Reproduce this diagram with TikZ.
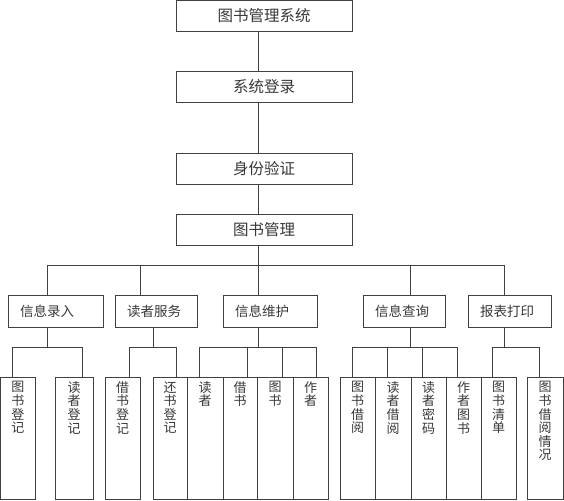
\documentclass[tikz,border=0pt]{standalone}
\usepackage{fontspec}
\newfontfamily\cjk{Noto Sans CJK SC}
\definecolor{linec}{gray}{0.25}
\definecolor{textc}{gray}{0.22}
\newcommand\leafnode[4]{\node[leafbox, minimum width=#3pt, label={[leaflabel]north:{#4}}] (#1) at (#2,377) {};}
\begin{document}
\begin{tikzpicture}[x=1pt,y=-1pt, draw=linec, line width=0.9pt,
  topbox/.style={draw=linec, line width=0.9pt, rectangle, minimum width=176pt, minimum height=31pt, inner sep=0pt, outer sep=0pt, text=textc, font=\cjk\fontsize{15.5}{17}\selectfont},
  midbox/.style={draw=linec, line width=0.9pt, rectangle, minimum height=32pt, inner xsep=12pt, inner ysep=0pt, outer sep=0pt, align=left, anchor=west, text=textc, font=\cjk\fontsize{13.5}{15}\selectfont},
  leafbox/.style={draw=linec, line width=0.9pt, rectangle, minimum height=122pt, inner sep=0pt, outer sep=0pt, anchor=north west},
  leaflabel/.style={anchor=north, yshift=-4pt, align=center, inner sep=0pt, text=textc, font=\cjk\fontsize{13}{13.6}\selectfont}
]
\useasboundingbox (0,0) rectangle (564,500);
% top chain
\node[topbox] (t1) at (264,16) {图书管理系统};
\node[topbox] (t2) at (264,87) {系统登录};
\node[topbox] (t3) at (264,168.5) {身份验证};
\node[topbox] (t4) at (264,229.5) {图书管理};
\coordinate (mx) at (258,0);
\draw (t1.south -| mx) -- (t2.north -| mx);
\draw (t2.south -| mx) -- (t3.north -| mx);
\draw (t3.south -| mx) -- (t4.north -| mx);
% level 2
\node[midbox, text width=71pt] (A) at (8,311) {信息录入};
\node[midbox, text width=58pt] (B) at (115,311) {读者服务};
\node[midbox, text width=70pt] (C) at (223,311) {信息维护};
\node[midbox, text width=58pt] (D) at (363,311) {信息查询};
\node[midbox, text width=59pt] (E) at (468,311) {报表打印};
\coordinate (bA) at (47,265);
\coordinate (bB) at (140,265);
\coordinate (bC) at (258,265);
\coordinate (bD) at (410,265);
\coordinate (bE) at (504,265);
\draw (t4.south -| mx) -- (bC);
\draw (bA) -- (bE);
\draw (bA) -- (A.north -| bA);
\draw (bB) -- (B.north -| bB);
\draw (bC) -- (C.north -| bC);
\draw (bD) -- (D.north -| bD);
\draw (bE) -- (E.north -| bE);
% leaves
\leafnode{a1}{0.5}{34.5}{图\\书\\登\\记}
\leafnode{a2}{55}{38}{读\\者\\登\\记}
\leafnode{b1}{105}{35}{借\\书\\登\\记}
\leafnode{b2}{153}{34}{还\\书\\登\\记}
\leafnode{c1}{187}{36}{读\\者}
\leafnode{c2}{223}{34}{借\\书}
\leafnode{c3}{257}{36}{图\\书}
\leafnode{c4}{293}{35}{作\\者}
\leafnode{d1}{340}{35}{图\\书\\借\\阅}
\leafnode{d2}{375}{36}{读\\者\\借\\阅}
\leafnode{d3}{411}{35}{读\\者\\密\\码}
\leafnode{d4}{446}{35}{作\\者\\图\\书}
\leafnode{e1}{481}{35}{图\\书\\清\\单}
\leafnode{e2}{527}{36}{图\\书\\借\\阅\\情\\况}
% sub-buses
\coordinate (dA) at (47,347);
\coordinate (dB) at (153,347);
\coordinate (dC) at (258,347);
\coordinate (dD) at (410,347);
\coordinate (dE) at (504,347);
\coordinate (sa1) at (12,347);  \coordinate (sa2) at (82,347);
\coordinate (sb1) at (129,347); \coordinate (sb2) at (176,347);
\coordinate (sc1) at (199,347); \coordinate (sc2) at (247,347);
\coordinate (sc3) at (282,347); \coordinate (sc4) at (316,347);
\coordinate (sd1) at (352,347); \coordinate (sd2) at (387,347);
\coordinate (sd3) at (422,347); \coordinate (sd4) at (457,347);
\coordinate (se1) at (492,347); \coordinate (se2) at (539,347);
\draw (A.south -| dA) -- (dA);
\draw (B.south -| dB) -- (dB);
\draw (C.south -| dC) -- (dC);
\draw (D.south -| dD) -- (dD);
\draw (E.south -| dE) -- (dE);
\draw (sa1) -- (sa2);
\draw (sb1) -- (sb2);
\draw (sc1) -- (sc4);
\draw (sd1) -- (sd4);
\draw (se1) -- (se2);
\draw (sa1) -- (a1.north -| sa1);
\draw (sa2) -- (a2.north -| sa2);
\draw (sb1) -- (b1.north -| sb1);
\draw (sb2) -- (b2.north -| sb2);
\draw (sc1) -- (c1.north -| sc1);
\draw (sc2) -- (c2.north -| sc2);
\draw (sc3) -- (c3.north -| sc3);
\draw (sc4) -- (c4.north -| sc4);
\draw (sd1) -- (d1.north -| sd1);
\draw (sd2) -- (d2.north -| sd2);
\draw (sd3) -- (d3.north -| sd3);
\draw (sd4) -- (d4.north -| sd4);
\draw (se1) -- (e1.north -| se1);
\draw (se2) -- (e2.north -| se2);
\end{tikzpicture}
\end{document}
